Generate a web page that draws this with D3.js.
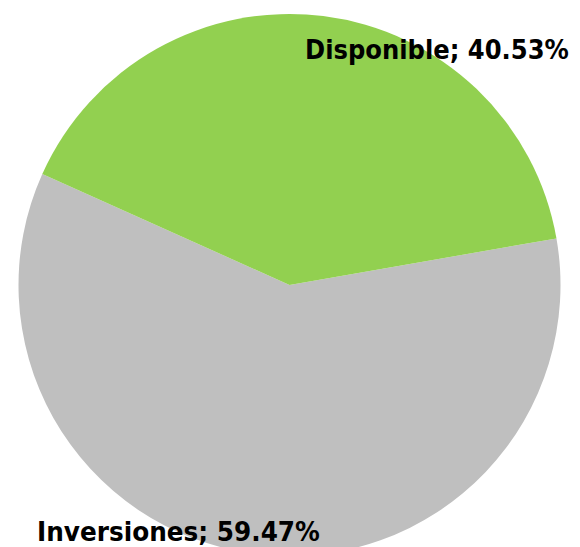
<!DOCTYPE html>
<html><head><meta charset="utf-8">
<script src="https://cdn.jsdelivr.net/npm/d3@7"></script>
<style>body{margin:0;background:#fff}svg{display:block}</style>
</head><body>
<script>
const categories = ["Inversiones", "Disponible"];
const values = [59.47, 40.53];
const labels = ["Inversiones; 59.47%", "Disponible; 40.53%"];
const colors = ["#BFBFBF", "#92D050"];

const W = 580, H = 547, cx = 289.5, cy = 285, R = 271;
const svg = d3.select("body").append("svg").attr("width", W).attr("height", H);
const start = 80.1 * Math.PI / 180;
const pie = d3.pie().sort(null).startAngle(start).endAngle(start + 2 * Math.PI);
const arcs = pie(values);
const arc = d3.arc().innerRadius(0).outerRadius(R);
const g = svg.append("g").attr("transform", `translate(${cx},${cy})`);
g.selectAll("path").data(arcs).join("path").attr("d", arc).attr("fill", (d, i) => colors[i]);

const labelPos = [{x: 37, y: 541, w: 283}, {x: 305, y: 59, w: 264}];
svg.selectAll("text.lbl").data(arcs).join("text").attr("class", "lbl")
  .attr("font-family", "DejaVu Sans, Verdana, sans-serif").attr("font-weight", "bold")
  .attr("font-size", 26).attr("fill", "#000")
  .text((d, i) => labels[i])
  .each(function(d, i) {
    const w = this.getComputedTextLength();
    const s = labelPos[i].w / w;
    d3.select(this).attr("transform", `translate(${labelPos[i].x},${labelPos[i].y}) scale(${s},1)`);
  });
</script>
</body></html>
